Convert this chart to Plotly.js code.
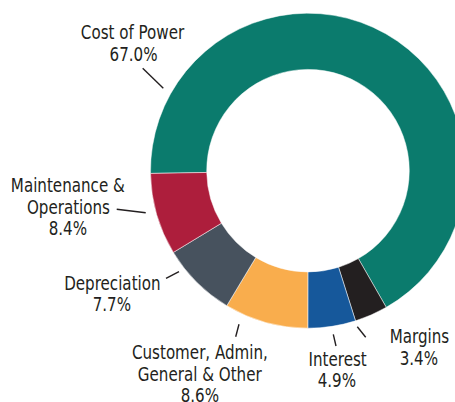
<!DOCTYPE html>
<html>
<head>
<meta charset="utf-8">
<script src="https://cdn.plot.ly/plotly-3.0.1.min.js"></script>
<style>
  html, body { margin: 0; padding: 0; overflow: hidden; background: #fff; }
  #wrap { width: 455px; height: 402px; overflow: hidden; position: relative; }
  #chart { width: 620px; height: 402px; position: absolute; left: 0; top: 0; }
</style>
</head>
<body>
<div id="wrap"><div id="chart"></div></div>
<script>
// ---- data ----
const categories = ['Cost of Power', 'Margins', 'Interest', 'Customer, Admin, General & Other', 'Depreciation', 'Maintenance & Operations'];
const shares = [67.0, 3.4, 4.9, 8.6, 7.7, 8.4];
const labelLines = [['Cost of Power'], ['Margins'], ['Interest'], ['Customer, Admin,', 'General & Other'], ['Depreciation'], ['Maintenance &', 'Operations']];

// ---- styles / layout config ----
const colors = ['#0b7b6d', '#231f20', '#16589b', '#f9ad4d', '#47525e', '#ad1e3c'];
const W = 620, H = 402;
const center = { x: 308, y: 170.7 }, radius = 157.5;
const FONT = '"DejaVu Sans Condensed", "Liberation Sans Narrow", "Arial Narrow", sans-serif';
const FS = 20, LINE = 21.5, SQUEEZE = 0.84;
// label block: center x and first baseline (px)
const labelPos = [
  { cx: 133, base: 39 },
  { cx: 419, base: 343 },
  { cx: 337, base: 365.5 },
  { cx: 200, base: 359 },
  { cx: 112, base: 289.5 },
  { cx: 68, base: 192 }
];
// leader lines (px)
const leaders = [
  [142.7, 68.3, 163.3, 88.3],
  [357.3, 326.7, 365.7, 337.3],
  [333.3, 334.3, 336, 346],
  [235.7, 336.7, 239, 324.3],
  [166, 278.3, 179, 271.7],
  [116.7, 209.3, 145.7, 212.7]
];

const px = x => x / W;
const py = y => 1 - y / H;

const annotations = [];
categories.forEach((c, i) => {
  const lines = labelLines[i].concat([shares[i].toFixed(1) + '%']);
  lines.forEach((t, j) => {
    annotations.push({
      text: t, showarrow: false, xref: 'paper', yref: 'paper',
      x: px(labelPos[i].cx), y: py(labelPos[i].base + j * LINE - 7),
      xanchor: 'center', yanchor: 'middle',
      font: { family: FONT, size: FS, color: '#231f20' }
    });
  });
});

const shapes = leaders.map(l => ({
  type: 'line', xref: 'paper', yref: 'paper',
  x0: px(l[0]), y0: py(l[1]), x1: px(l[2]), y1: py(l[3]),
  line: { color: '#231f20', width: 1.4 }
}));

const trace = {
  type: 'pie',
  labels: categories,
  values: shares,
  hole: 0.643,
  sort: false,
  direction: 'clockwise',
  rotation: -91,
  textinfo: 'none',
  hoverinfo: 'label+percent',
  marker: { colors: colors, line: { color: '#ffffff', width: 0.5 } },
  domain: {
    x: [px(center.x - radius), px(center.x + radius)],
    y: [py(center.y + radius), py(center.y - radius)]
  },
  showlegend: false
};

Plotly.newPlot('chart', [trace], {
  width: W, height: H,
  margin: { l: 0, r: 0, t: 0, b: 0 },
  paper_bgcolor: '#ffffff',
  showlegend: false,
  annotations: annotations,
  shapes: shapes
}, { staticPlot: true, displayModeBar: false }).then(() => {
  // narrow the condensed face further to match the reference's compressed type
  document.querySelectorAll('#chart .annotation-text').forEach(t => {
    const w = t.getComputedTextLength();
    t.setAttribute('lengthAdjust', 'spacingAndGlyphs');
    t.setAttribute('textLength', (w * SQUEEZE).toFixed(2));
  });
});
</script>
</body>
</html>
